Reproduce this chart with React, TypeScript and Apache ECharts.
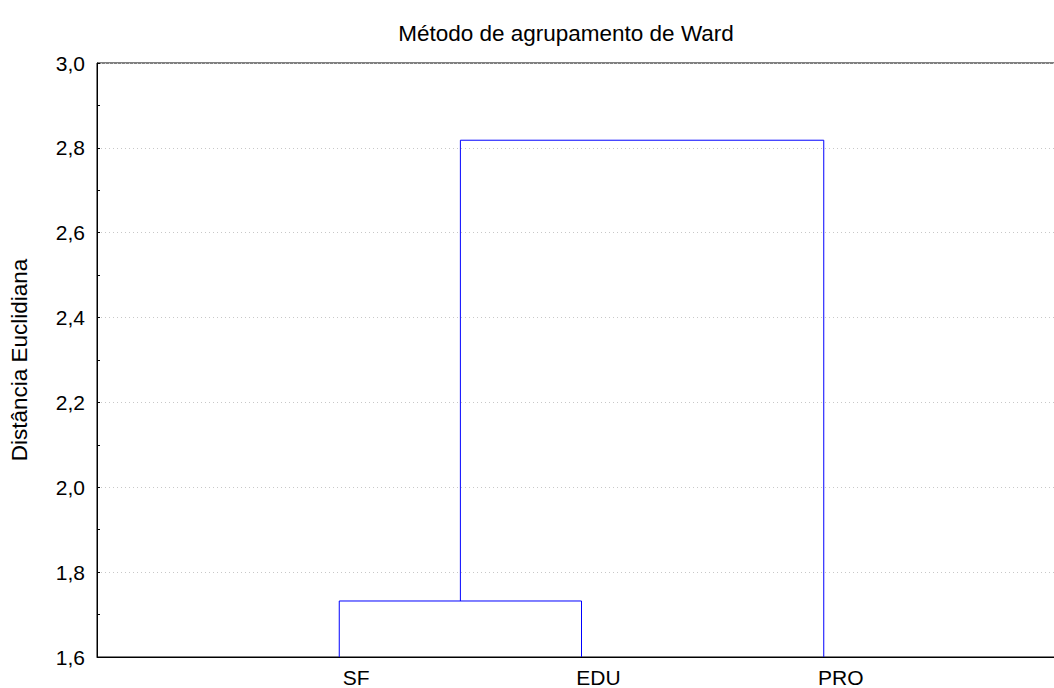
import React, { useEffect, useRef } from "react";
import * as echarts from "echarts";

const leaves = ["SF", "EDU", "PRO"];
const mergeHeights = [1.732, 2.818];
const yTicks = [1.6, 1.8, 2.0, 2.2, 2.4, 2.6, 2.8, 3.0];
const titleText = "Método de agrupamento de Ward";
const yName = "Distância Euclidiana";

const FONT = "'Liberation Sans', Arial, sans-serif";

export default function App() {
  const ref = useRef<HTMLDivElement>(null);
  useEffect(() => {
    if (!ref.current) return;
    const chart = echarts.init(ref.current, undefined, { renderer: "svg" });
    const base = yTicks[0];
    const p1 = 1, p2 = 2, p3 = 3;
    const mid12 = (p1 + p2) / 2;
    const link1 = [
      [p1, base],
      [p1, mergeHeights[0]],
      [p2, mergeHeights[0]],
      [p2, base],
    ];
    const link2 = [
      [mid12, mergeHeights[0]],
      [mid12, mergeHeights[1]],
      [p3, mergeHeights[1]],
      [p3, base],
    ];
    const lineStyle = { color: "#0000ff", width: 1 };
    chart.setOption({
      animation: false,
      title: {
        text: titleText,
        left: 561,
        top: 17,
        textAlign: "center",
        textStyle: { fontFamily: FONT, fontSize: 22.5, fontWeight: "normal", color: "#000" },
      },
      grid: {
        left: 96,
        top: 63,
        width: 970,
        height: 594,
        show: true,
        borderColor: "#000",
        borderWidth: 1,
        backgroundColor: "transparent",
      },
      xAxis: {
        type: "value",
        min: 0,
        max: leaves.length + 1,
        interval: 1,
        axisLine: { show: true, lineStyle: { color: "#000", width: 1 } },
        axisTick: { show: false },
        splitLine: { show: false },
        axisLabel: {
          fontFamily: FONT,
          fontSize: 21,
          color: "#000",
          margin: 10,
          padding: [0, 0, 0, 34],
          formatter: (v: number) => {
            const i = Math.round(v) - 1;
            return i >= 0 && i < leaves.length && Math.abs(v - Math.round(v)) < 1e-6 ? leaves[i] : "";
          },
        },
      },
      yAxis: {
        type: "value",
        min: 1.6,
        max: 3.0,
        interval: 0.2,
        name: yName,
        nameLocation: "middle",
        nameGap: 66,
        nameTextStyle: { fontFamily: FONT, fontSize: 22.5, color: "#000" },
        axisLine: { show: true, lineStyle: { color: "#000", width: 1 } },
        axisTick: { show: true, inside: true, length: 3, lineStyle: { color: "#000" } },
        minorTick: { show: true, splitNumber: 2, length: 3, lineStyle: { color: "#000" } },
        splitLine: { show: true, lineStyle: { color: "#c8c8c8", type: [1, 3], width: 1 } },
        axisLabel: {
          fontFamily: FONT,
          fontSize: 21,
          color: "#000",
          margin: 12,
          formatter: (v: number) => v.toFixed(1).replace(".", ","),
        },
      },
      series: [
        { type: "line", data: link1, symbol: "none", lineStyle, silent: true },
        { type: "line", data: link2, symbol: "none", lineStyle, silent: true },
      ],
    });
    return () => chart.dispose();
  }, []);
  return (
    <div style={{ width: 1054, height: 688, position: "absolute", left: 0, top: 0, overflow: "hidden" }}>
      <div ref={ref} style={{ width: 1090, height: 688, position: "absolute", left: 0, top: 0 }} />
    </div>
  );
}
